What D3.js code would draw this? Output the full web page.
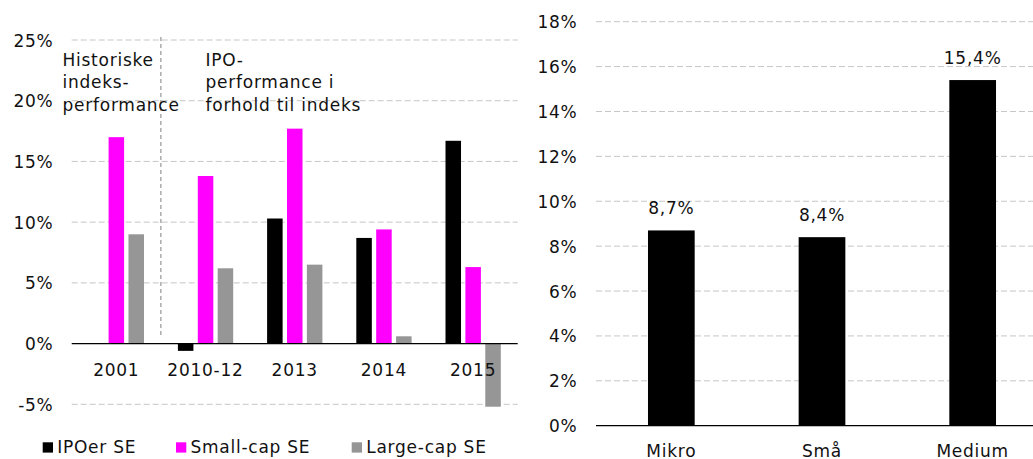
<!DOCTYPE html>
<html><head><meta charset="utf-8">
<script src="https://cdn.jsdelivr.net/npm/d3@7"></script>
<style>
html,body{margin:0;padding:0;background:#fff;}
svg{display:block;font-family:"DejaVu Sans",Verdana,sans-serif;}
svg text{letter-spacing:0.75px;fill:#111;}
</style></head>
<body>
<svg id="chart" width="1033" height="459"></svg>
<script>
// ---- Left chart data ----
const leftCategories = ["2001", "2010-12", "2013", "2014", "2015"];
const leftSeries = ["IPOer SE", "Small-cap SE", "Large-cap SE"];
const ipoerSE = [null, -0.6, 10.3, 8.7, 16.7];
const smallCapSE = [17.0, 13.8, 17.7, 9.4, 6.3];
const largeCapSE = [9.0, 6.2, 6.5, 0.6, -5.2];
const leftTicks = [-5, 0, 5, 10, 15, 20, 25];
const noteLeft = ["Historiske", "indeks-", "performance"];
const noteRight = ["IPO-", "performance i", "forhold til indeks"];

// ---- Right chart data ----
const rightCategories = ["Mikro", "Små", "Medium"];
const rightValues = [8.7, 8.4, 15.4];
const rightTicks = [0, 2, 4, 6, 8, 10, 12, 14, 16, 18];

const colors = {"IPOer SE": "#000000", "Small-cap SE": "#ff00ff", "Large-cap SE": "#969696"};
const FS = 17;
const svg = d3.select("#chart");

// ================= LEFT =================
const seriesValues = {"IPOer SE": ipoerSE, "Small-cap SE": smallCapSE, "Large-cap SE": largeCapSE};
const lx0 = d3.scaleBand().domain(leftCategories).range([71.7, 517.7]).paddingInner(0).paddingOuter(0);
const lx1 = d3.scaleBand().domain(leftSeries).range([17, 72.3]).paddingInner(0.22).paddingOuter(0);
const ly = d3.scaleLinear().domain([-5, 25]).range([404.3, 40]);

const L = svg.append("g");
// gridlines
L.append("g").selectAll("line").data(leftTicks.filter(t => t !== 0)).join("line")
  .attr("x1", 71.7).attr("x2", 517.7)
  .attr("y1", d => ly(d)).attr("y2", d => ly(d))
  .attr("stroke", "#c6c6c6").attr("stroke-width", 1).attr("stroke-dasharray", "6,3");
// y labels
L.append("g").selectAll("text").data(leftTicks).join("text")
  .attr("x", 53.5).attr("y", d => ly(d) + 6.5)
  .attr("text-anchor", "end").attr("font-size", FS)
  .text(d => d + "%");

// separator
L.append("line").attr("x1", lx0("2010-12")).attr("x2", lx0("2010-12"))
  .attr("y1", 37).attr("y2", 338)
  .attr("stroke", "#808080").attr("stroke-width", 1).attr("stroke-dasharray", "4,3");

// bars
leftSeries.forEach(s => {
  L.append("g").selectAll("rect")
    .data(leftCategories.map((c, i) => ({c, v: seriesValues[s][i]})).filter(d => d.v !== null))
    .join("rect")
    .attr("x", d => lx0(d.c) + lx1(s))
    .attr("width", lx1.bandwidth())
    .attr("y", d => ly(Math.max(0, d.v)))
    .attr("height", d => Math.abs(ly(d.v) - ly(0)))
    .attr("fill", colors[s]);
});
// zero axis
L.append("line").attr("x1", 71.7).attr("x2", 517.7).attr("y1", ly(0)).attr("y2", ly(0))
  .attr("stroke", "#000").attr("stroke-width", 1.3);
// x labels
L.append("g").selectAll("text").data(leftCategories).join("text")
  .attr("x", d => lx0(d) + lx0.bandwidth() / 2).attr("y", 376)
  .attr("text-anchor", "middle").attr("font-size", FS).text(d => d);

// notes
const lineH = 22.5;
L.append("text").attr("font-size", FS).selectAll("tspan").data(noteLeft).join("tspan")
  .attr("x", 62.5).attr("y", (d, i) => 65.5 + i * lineH).text(d => d);
L.append("text").attr("font-size", FS).selectAll("tspan").data(noteRight).join("tspan")
  .attr("x", 205.5).attr("y", (d, i) => 65.5 + i * lineH).text(d => d);

// legend
const legX = [42.7, 176, 351.7];
const lg = L.append("g").selectAll("g").data(leftSeries).join("g")
  .attr("transform", (d, i) => `translate(${legX[i]},0)`);
lg.append("rect").attr("x", 0).attr("y", 442.3).attr("width", 10.3).attr("height", 10.3)
  .attr("fill", d => colors[d]);
lg.append("text").attr("x", 14.5).attr("y", 453.3).attr("font-size", FS).text(d => d);

// ================= RIGHT =================
const rx = d3.scaleBand().domain(rightCategories).range([596, 1048]).paddingInner(0).paddingOuter(0);
const ry = d3.scaleLinear().domain([0, 18]).range([425.7, 21.7]);
const barW = rx.bandwidth() * 0.31;
const R = svg.append("g");
R.append("g").selectAll("line").data(rightTicks.filter(t => t !== 0)).join("line")
  .attr("x1", 596).attr("x2", 1048)
  .attr("y1", d => ry(d)).attr("y2", d => ry(d))
  .attr("stroke", "#c6c6c6").attr("stroke-width", 1).attr("stroke-dasharray", "6,3");
R.append("g").selectAll("text").data(rightTicks).join("text")
  .attr("x", 577.5).attr("y", d => ry(d) + 6.5)
  .attr("text-anchor", "end").attr("font-size", FS).text(d => d + "%");
const rdata = rightCategories.map((c, i) => ({c, v: rightValues[i]}));
R.append("g").selectAll("rect").data(rdata).join("rect")
  .attr("x", d => rx(d.c) + rx.bandwidth() / 2 - barW / 2)
  .attr("width", barW)
  .attr("y", d => ry(d.v))
  .attr("height", d => ry(0) - ry(d.v))
  .attr("fill", "#000");
R.append("g").selectAll("text").data(rdata).join("text")
  .attr("x", d => rx(d.c) + rx.bandwidth() / 2).attr("y", d => ry(d.v) - 16)
  .attr("text-anchor", "middle").attr("font-size", FS)
  .text(d => d.v.toFixed(1).replace(".", ",") + "%");
R.append("line").attr("x1", 596).attr("x2", 1048).attr("y1", ry(0)).attr("y2", ry(0))
  .attr("stroke", "#000").attr("stroke-width", 1.3);
R.append("g").selectAll("text").data(rightCategories).join("text")
  .attr("x", d => rx(d) + rx.bandwidth() / 2).attr("y", 456.5)
  .attr("text-anchor", "middle").attr("font-size", FS).text(d => d);
</script>
</body></html>
